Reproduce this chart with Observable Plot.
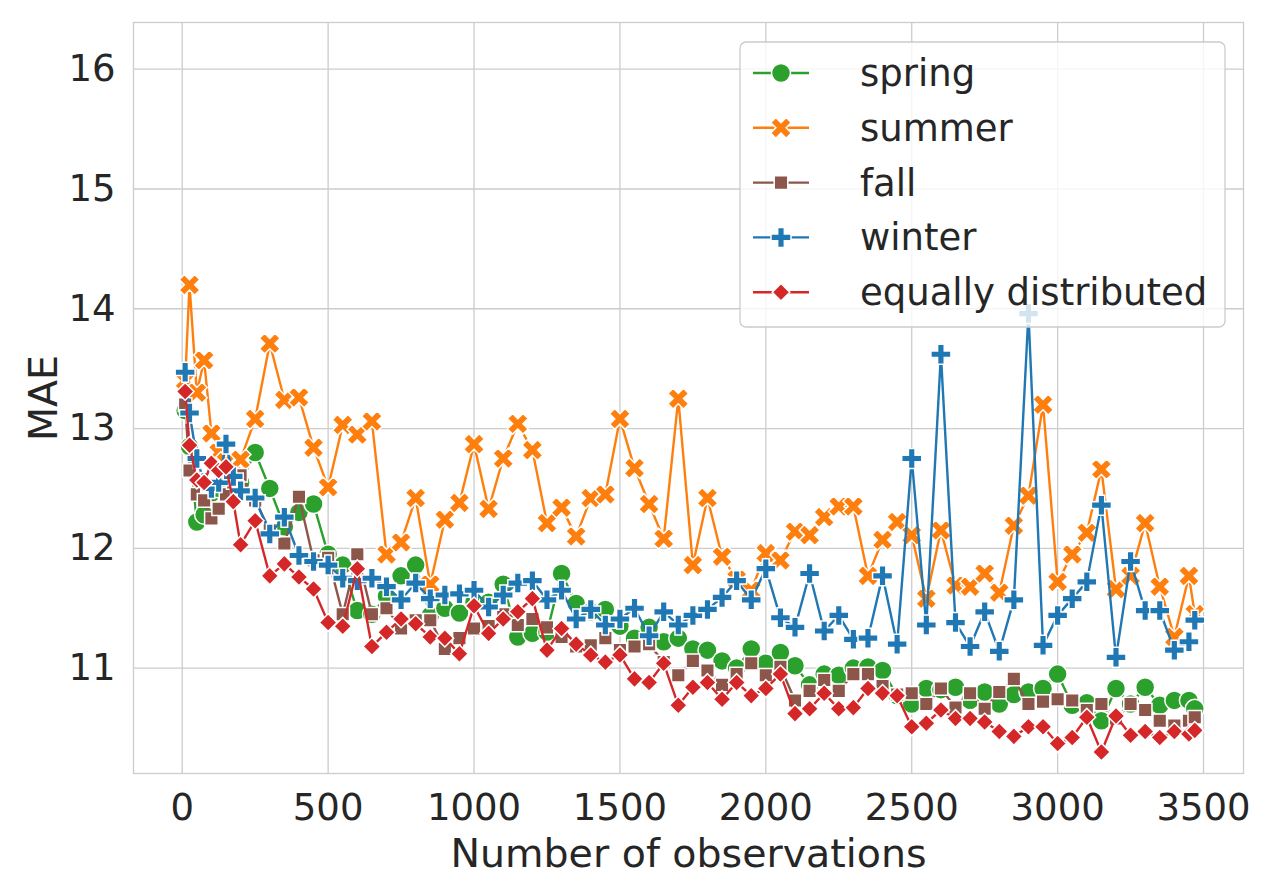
<!DOCTYPE html>
<html>
<head>
<meta charset="utf-8">
<script src="https://cdn.jsdelivr.net/npm/d3@7"></script>
<script src="https://cdn.jsdelivr.net/npm/@observablehq/plot@0.6"></script>
<style>
  html, body { margin: 0; padding: 0; background: #fff; }
  #chart { width: 1280px; height: 896px; }
</style>
</head>
<body>
<div id="chart"></div>
<script>
// ---- data ----
const observations = [10,25,50,75,100,125,150,175,200,250,300,350,400,450,500,550,600,650,700,750,800,850,900,950,1000,1050,1100,1150,1200,1250,1300,1350,1400,1450,1500,1550,1600,1650,1700,1750,1800,1850,1900,1950,2000,2050,2100,2150,2200,2250,2300,2350,2400,2450,2500,2550,2600,2650,2700,2750,2800,2850,2900,2950,3000,3050,3100,3150,3200,3250,3300,3350,3400,3450,3470];

const spring = [13.15,12.85,12.22,12.28,12.46,12.5,12.6,12.62,12.55,12.8,12.5,12.18,12.3,12.37,11.95,11.86,11.48,11.45,11.6,11.77,11.86,11.44,11.5,11.46,11.55,11.55,11.7,11.26,11.29,11.3,11.79,11.54,11.47,11.49,11.35,11.25,11.34,11.22,11.25,11.16,11.15,11.06,11.0,11.16,11.04,11.13,11.02,10.86,10.95,10.94,11.0,11.01,10.98,10.77,10.7,10.83,10.82,10.84,10.73,10.8,10.7,10.78,10.8,10.83,10.95,10.69,10.71,10.56,10.83,10.7,10.84,10.69,10.73,10.73,10.66];

const summer = [13.4,14.2,13.3,13.57,12.96,12.8,12.72,12.65,12.74,13.08,13.71,13.24,13.26,12.84,12.51,13.03,12.95,13.06,11.95,12.05,12.42,11.7,12.24,12.38,12.87,12.33,12.75,13.04,12.82,12.21,12.34,12.1,12.42,12.45,13.08,12.67,12.37,12.08,13.25,11.86,12.42,11.93,11.74,11.65,11.96,11.9,12.14,12.11,12.26,12.35,12.35,11.77,12.07,12.22,12.11,11.58,12.15,11.69,11.68,11.79,11.63,12.19,12.44,13.2,11.72,11.95,12.13,12.66,11.66,11.77,12.21,11.68,11.26,11.77,11.45];

const fall = [13.2,12.65,12.45,12.4,12.25,12.33,12.45,12.55,12.61,12.4,12.15,12.04,12.43,11.9,11.92,11.45,11.95,11.45,11.5,11.33,11.4,11.4,11.16,11.25,11.33,11.35,11.45,11.36,11.41,11.34,11.26,11.18,11.19,11.25,11.15,11.18,11.2,11.05,10.94,11.06,10.98,10.86,10.95,11.04,10.94,11.01,10.73,10.81,10.9,10.81,10.95,10.95,10.85,10.78,10.79,10.7,10.83,10.67,10.79,10.66,10.8,10.91,10.7,10.72,10.74,10.73,10.65,10.7,10.58,10.7,10.65,10.56,10.52,10.56,10.59];

const winter = [13.47,13.13,12.75,12.55,12.5,12.55,12.87,12.6,12.48,12.42,12.12,12.26,11.94,11.89,11.86,11.75,11.73,11.75,11.68,11.57,11.71,11.58,11.61,11.62,11.65,11.51,11.61,11.71,11.73,11.57,11.65,11.41,11.49,11.36,11.41,11.5,11.27,11.47,11.36,11.44,11.49,11.59,11.73,11.57,11.83,11.42,11.34,11.79,11.31,11.44,11.24,11.25,11.77,11.2,12.75,11.36,13.62,11.38,11.18,11.47,11.14,11.57,13.96,11.19,11.44,11.58,11.72,12.36,11.09,11.89,11.48,11.48,11.15,11.22,11.4];

const equallyDistributed = [13.31,12.86,12.57,12.55,12.71,12.65,12.68,12.39,12.03,12.23,11.77,11.87,11.76,11.66,11.38,11.35,11.83,11.18,11.3,11.41,11.37,11.26,11.25,11.12,11.52,11.29,11.41,11.47,11.58,11.15,11.33,11.2,11.11,11.05,11.11,10.91,10.88,11.04,10.69,10.84,10.88,10.74,10.88,10.77,10.83,10.95,10.62,10.66,10.79,10.66,10.67,10.83,10.79,10.77,10.51,10.54,10.65,10.58,10.58,10.55,10.47,10.43,10.51,10.51,10.37,10.42,10.59,10.3,10.6,10.44,10.47,10.42,10.47,10.45,10.48];

const seriesNames = ["spring", "summer", "fall", "winter", "equally distributed"];
const seriesValues = [spring, summer, fall, winter, equallyDistributed];
const xTicks = [0, 500, 1000, 1500, 2000, 2500, 3000, 3500];
const yTicks = [11, 12, 13, 14, 15, 16];

// ---- styling ----
const colors = ["#2ca02c", "#ff7f0e", "#8c564b", "#1f77b4", "#d62728"];

function rad(size) { return Math.sqrt(size / Math.PI); }
const circleSym = { draw(ctx, size) { const r = rad(size); ctx.moveTo(r, 0); ctx.arc(0, 0, r, 0, 2 * Math.PI); } };
const squareSym = { draw(ctx, size) { const h = rad(size); ctx.rect(-h, -h, 2 * h, 2 * h); } };
const diamondSym = { draw(ctx, size) { const h = rad(size); ctx.moveTo(0, -h); ctx.lineTo(h, 0); ctx.lineTo(0, h); ctx.lineTo(-h, 0); ctx.closePath(); } };
function crossPts(a) {
  const t = a / 3;
  return [[-a,-t],[-t,-t],[-t,-a],[t,-a],[t,-t],[a,-t],[a,t],[t,t],[t,a],[-t,a],[-t,t],[-a,t]];
}
function drawPoly(ctx, pts) { pts.forEach(([x, y], i) => i ? ctx.lineTo(x, y) : ctx.moveTo(x, y)); ctx.closePath(); }
const plusSym = { draw(ctx, size) { drawPoly(ctx, crossPts(rad(size))); } };
const xSym = { draw(ctx, size) {
  const c = Math.SQRT1_2;
  drawPoly(ctx, crossPts(rad(size)).map(([x, y]) => [c * (x - y), c * (x + y)]));
} };
const symbols = [circleSym, xSym, squareSym, plusSym, diamondSym];
const radii = [9.5, 11, 6.8, 10, 8.8];

const marks = [
  Plot.gridX(xTicks, { stroke: "#cccccc", strokeOpacity: 1, strokeWidth: 1.3 }),
  Plot.gridY(yTicks, { stroke: "#cccccc", strokeOpacity: 1, strokeWidth: 1.3 }),
  Plot.frame({ stroke: "#cccccc", strokeWidth: 1.3 }),
  Plot.axisX(xTicks, { tickSize: 0, tickPadding: 20, fontSize: 37, tickFormat: d => String(d), label: null }),
  Plot.axisX({ ticks: [], tickSize: 0, fontSize: 39.5, label: "Number of observations", labelAnchor: "center", labelArrow: false, labelOffset: 93 }),
  Plot.axisY(yTicks, { tickSize: 0, tickPadding: 18, fontSize: 37, tickFormat: d => String(d), label: null }),
  Plot.axisY({ ticks: [], tickSize: 0, fontSize: 39.5, label: "MAE", labelAnchor: "center", labelArrow: false, labelOffset: 105 })
];

seriesNames.forEach((name, k) => {
  const rows = observations.map((x, i) => ({ x, y: seriesValues[k][i], s: name }));
  marks.push(Plot.line(rows, { x: "x", y: "y", stroke: colors[k], strokeWidth: 2.4 }));
  marks.push(Plot.dot(rows, { x: "x", y: "y", symbol: symbols[k], r: radii[k], fill: colors[k], stroke: "white", strokeWidth: 1.5 }));
});

const chart = Plot.plot({
  width: 1280,
  height: 896,
  marginLeft: 133,
  marginRight: 37,
  marginTop: 22,
  marginBottom: 123,
  style: { fontFamily: "DejaVu Sans", fontSize: "37px", color: "#262626", background: "#fff" },
  x: { domain: [-167, 3637], label: null },
  y: { domain: [10.12, 16.39], label: null },
  marks
});

// ---- legend (inside the plot, upper right) ----
const svg = d3.select(chart);
const lg = svg.append("g").attr("font-family", "DejaVu Sans").style("font-size", "37px").attr("text-anchor", "start");
lg.append("rect").attr("x", 740).attr("y", 42).attr("width", 485).attr("height", 285).attr("rx", 6)
  .attr("fill", "white").attr("fill-opacity", 0.8).attr("stroke", "#cccccc").attr("stroke-width", 1.3);
seriesNames.forEach((name, k) => {
  const yy = 73 + k * 54.8;
  lg.append("line").attr("x1", 753).attr("x2", 809).attr("y1", yy).attr("y2", yy)
    .attr("stroke", colors[k]).attr("stroke-width", 2.4);
  lg.append("path").attr("transform", `translate(781,${yy})`)
    .attr("d", d3.symbol().type(symbols[k]).size(Math.PI * radii[k] * radii[k])())
    .attr("fill", colors[k]).attr("stroke", "white").attr("stroke-width", 1.5);
  lg.append("text").attr("x", 860).attr("y", yy).attr("dy", "0.35em").attr("fill", "#262626")
    .attr("text-anchor", "start").style("font-size", "37px").text(name);
});

document.getElementById("chart").appendChild(chart);
</script>
</body>
</html>
